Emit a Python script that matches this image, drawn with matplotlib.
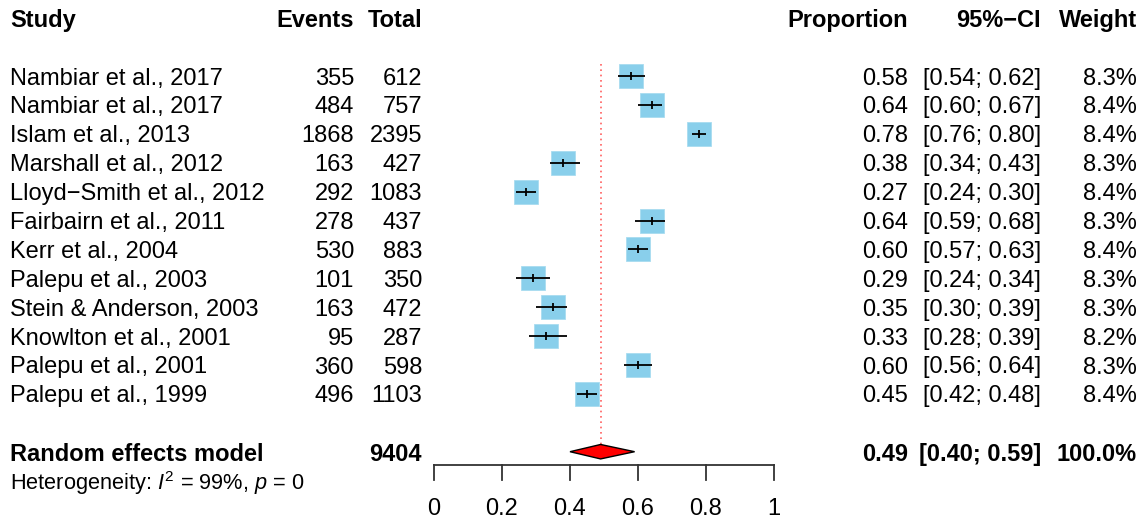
import numpy as np
import matplotlib.pyplot as plt
from matplotlib.transforms import blended_transform_factory

plt.rcParams['font.family'] = ['Liberation Sans', 'DejaVu Sans']
plt.rcParams['mathtext.fontset'] = 'custom'
plt.rcParams['mathtext.rm'] = 'Liberation Sans'
plt.rcParams['mathtext.it'] = 'Liberation Sans:italic'

# data
studies = ['Nambiar et al., 2017', 'Nambiar et al., 2017', 'Islam et al., 2013',
           'Marshall et al., 2012', 'Lloyd\u2212Smith et al., 2012', 'Fairbairn et al., 2011',
           'Kerr et al., 2004', 'Palepu et al., 2003', 'Stein & Anderson, 2003',
           'Knowlton et al., 2001', 'Palepu et al., 2001', 'Palepu et al., 1999']
events = [355, 484, 1868, 163, 292, 278, 530, 101, 163, 95, 360, 496]
totals = [612, 757, 2395, 427, 1083, 437, 883, 350, 472, 287, 598, 1103]
props = [0.58, 0.64, 0.78, 0.38, 0.27, 0.64, 0.60, 0.29, 0.35, 0.33, 0.60, 0.45]
ci_low = [0.54, 0.60, 0.76, 0.34, 0.24, 0.59, 0.57, 0.24, 0.30, 0.28, 0.56, 0.42]
ci_high = [0.62, 0.67, 0.80, 0.43, 0.30, 0.68, 0.63, 0.34, 0.39, 0.39, 0.64, 0.48]
weights = [8.3, 8.4, 8.4, 8.3, 8.4, 8.3, 8.4, 8.3, 8.3, 8.2, 8.3, 8.4]

pooled_total = 9404
pooled = 0.49
pooled_low = 0.40
pooled_high = 0.59
pooled_weight = 100.0
ticks = [0, 0.2, 0.4, 0.6, 0.8, 1]
tick_labels = ['0', '0.2', '0.4', '0.6', '0.8', '1']

W, H = 1146, 522
fig = plt.figure(figsize=(W / 100, H / 100), dpi=100)
# forest panel: x in proportion units, y in row units (row i at 76 + 28.9*i px)
ax = fig.add_axes([434 / W, 0, 340 / W, 1])
ax.set_xlim(0, 1)
ax.set_ylim((H - 76) / 28.9, -76 / 28.9)
ax.axis('off')

rows = np.arange(len(studies))
pooled_row = 13
fs = 17

# reference line at pooled estimate
ax.plot([pooled, pooled], [-0.42, pooled_row - 0.27], ls=(0, (1, 2.2)), color='#ff6060', lw=1.2)

# study squares and CIs
sizes = 17.5 * np.sqrt(np.array(weights) / max(weights))
for i in rows:
    ax.plot(props[i], i, marker='s', ms=sizes[i], color='#89CFEB', mec='#a8dcf0', mew=0.6, zorder=2)
    ax.plot([ci_low[i], ci_high[i]], [i, i], color='black', lw=1.3, zorder=3, solid_capstyle='butt')
    ax.plot(props[i], i, marker='|', ms=5.5, mew=1.3, color='black', zorder=3)

# diamond for random effects model
dh = 0.25
ax.fill([pooled_low, pooled, pooled_high, pooled],
        [pooled_row, pooled_row - dh, pooled_row, pooled_row + dh],
        facecolor='red', edgecolor='black', lw=1.0, zorder=3)

# x axis drawn by hand like R's forest
axis_y = 13.46
ax.plot([0, 1], [axis_y, axis_y], color='#333333', lw=1.3, clip_on=False)
for t, lab in zip(ticks, tick_labels):
    ax.plot([t, t], [axis_y, axis_y + 0.53], color='#333333', lw=1.3, clip_on=False)
    ax.text(t, 14.9, lab, ha='center', va='center_baseline', fontsize=fs)

trans = blended_transform_factory(fig.transFigure, ax.transData)

def put(px, row, s, ha='right', bold=False, size=fs):
    fig.text(px / W, row, s, transform=trans, ha=ha, va='center_baseline', fontsize=size,
             fontweight='bold' if bold else 'normal')

# header
hdr = -2.0
put(10, hdr, 'Study', ha='left', bold=True)
put(354, hdr, 'Events', bold=True)
put(422, hdr, 'Total', bold=True)
put(908, hdr, 'Proportion', bold=True)
put(1041, hdr, '95%\u2212CI', bold=True)
put(1137, hdr, 'Weight', bold=True)

for i in rows:
    put(10, i, studies[i], ha='left')
    put(354, i, str(events[i]))
    put(422, i, str(totals[i]))
    put(908, i, f'{props[i]:.2f}')
    put(1041, i, f'[{ci_low[i]:.2f}; {ci_high[i]:.2f}]')
    put(1137, i, f'{weights[i]:.1f}%')

put(10, pooled_row, 'Random effects model', ha='left', bold=True)
put(422, pooled_row, str(pooled_total), bold=True)
put(908, pooled_row, f'{pooled:.2f}', bold=True)
put(1041, pooled_row, f'[{pooled_low:.2f}; {pooled_high:.2f}]', bold=True)
put(1137, pooled_row, f'{pooled_weight:.1f}%', bold=True)
put(10, 13.95, r'Heterogeneity: $I^2$ = 99%, $p$ = 0', ha='left', size=15.7)

fig.savefig('out.png', dpi=100)
